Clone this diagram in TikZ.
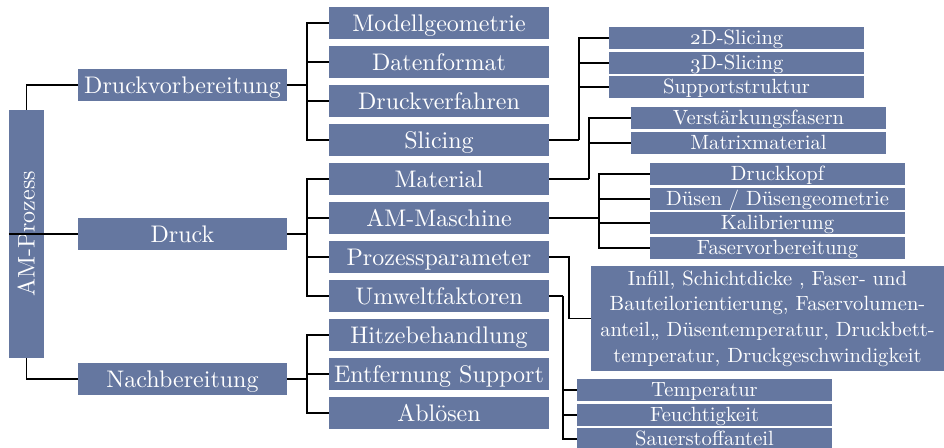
\documentclass[tikz,border=0pt]{standalone}
\usepackage{fontspec}
\setmainfont{lmroman10-regular.otf}[Numbers=OldStyle]
\usetikzlibrary{calc}
\definecolor{boxblue}{RGB}{101,119,160}
\begin{document}
\begin{tikzpicture}[x=1pt,y=-1pt,
  bx/.style={fill=boxblue, text=white, inner sep=0pt, anchor=center, align=center},
  big/.style={font=\fontsize{24}{26}\selectfont, text height=16.3pt, text depth=0pt},
  small/.style={font=\fontsize{20.6}{22}\selectfont, text height=13pt, text depth=0pt},
  l1/.style={bx, big, minimum width=209pt, minimum height=32pt},
  l2/.style={bx, big, minimum width=220pt, minimum height=32pt},
  l3/.style={bx, small, minimum width=255pt, minimum height=22pt},
  conn/.style={draw=black, line width=1.8pt},
]
\useasboundingbox (0,0) rectangle (944,447);

% root
\node[bx, big, rotate=90, minimum width=248pt, minimum height=35pt] (am) at (26.5,234) {AM-Prozess};

% level 1
\node[l1] (dv) at (182.5,85) {Druckvorbereitung};
\node[l1] (dr) at (182.5,234) {Druck};
\node[l1] (nb) at (182.5,379) {Nachbereitung};

% level 2
\node[l2] (mg) at (439,23) {Modellgeometrie};
\node[l2] (df) at (439,62) {Datenformat};
\node[l2] (dvf) at (439,101) {Druckverfahren};
\node[l2] (sl) at (439,140) {Slicing};
\node[l2] (ma) at (439,179) {Material};
\node[l2] (amm) at (439,218) {AM-Maschine};
\node[l2] (pp) at (439,257) {Prozessparameter};
\node[l2] (uw) at (439,296) {Umweltfaktoren};
\node[l2] (hb) at (439,335) {Hitzebehandlung};
\node[l2] (es) at (439,374) {Entfernung Support};
\node[l2] (ab) at (439,413) {Ablösen};

% level 3
\node[l3] (s2) at (736.5,38) {2D-Slicing};
\node[l3] (s3) at (736.5,63) {3D-Slicing};
\node[l3] (ss) at (736.5,87) {Supportstruktur};
\node[l3] (vf) at (758.5,118) {Verstärkungsfasern};
\node[l3] (mm) at (758.5,143) {Matrixmaterial};
\node[l3] (dk) at (777.5,174) {Druckkopf};
\node[l3] (dg) at (777.5,199) {Düsen / Düsengeometrie};
\node[l3] (kb) at (777.5,223) {Kalibrierung};
\node[l3] (fv) at (777.5,248) {Faservorbereitung};
\node[bx, font=\fontsize{20.6}{25.7}\selectfont, minimum width=353pt, minimum height=105pt] (inf) at (767.5,318.5)
  {Infill, Schichtdicke , Faser- und\\Bauteilorientierung, Faservolumen-\\anteil,, Düsentemperatur, Druckbett-\\temperatur, Druckgeschwindigkeit};
\node[l3] (tp) at (704.5,390) {Temperatur};
\node[l3] (fk) at (704.5,415) {Feuchtigkeit};
\node[l3] (so) at (704.5,439) {Sauerstoffanteil};

% connectors root
\draw[conn] (am.east) |- (dv.west);
\draw[conn] (am.north) -- (dr.west);
\draw[conn] (am.west) |- (nb.west);

% level 1 -> level 2
\coordinate (b1) at ($(dv.east)+(20,0)$);
\draw[conn] (dv.east) -- (b1);
\foreach \c in {mg,df,dvf,sl} \draw[conn] (b1) |- (\c.west);
\coordinate (b2) at ($(dr.east)+(20,0)$);
\draw[conn] (dr.east) -- (b2);
\foreach \c in {ma,amm,pp,uw} \draw[conn] (b2) |- (\c.west);
\coordinate (b3) at ($(nb.east)+(20,0)$);
\draw[conn] (nb.east) -- (b3);
\foreach \c in {hb,es,ab} \draw[conn] (b3) |- (\c.west);

% level 2 -> level 3
\coordinate (b4) at ($(sl.east)+(30,0)$);
\draw[conn] (sl.east) -- (b4);
\foreach \c in {s2,s3,ss} \draw[conn] (b4) |- (\c.west);
\coordinate (b5) at ($(ma.east)+(40,0)$);
\draw[conn] (ma.east) -- (b5);
\foreach \c in {vf,mm} \draw[conn] (b5) |- (\c.west);
\coordinate (b6) at ($(amm.east)+(50,0)$);
\draw[conn, line width=2.4pt] (amm.east) -- (b6);
\foreach \c in {dk,dg,kb,fv} \draw[conn] (b6) |- (\c.west);
\coordinate (b7) at ($(pp.east)+(20,0)$);
\draw[conn] (pp.east) -- (b7) |- (inf.west);
\coordinate (b8) at ($(uw.east)+(14,0)$);
\draw[conn] (uw.east) -- (b8);
\foreach \c in {tp,fk,so} \draw[conn] (b8) |- (\c.west);
\end{tikzpicture}
\end{document}
